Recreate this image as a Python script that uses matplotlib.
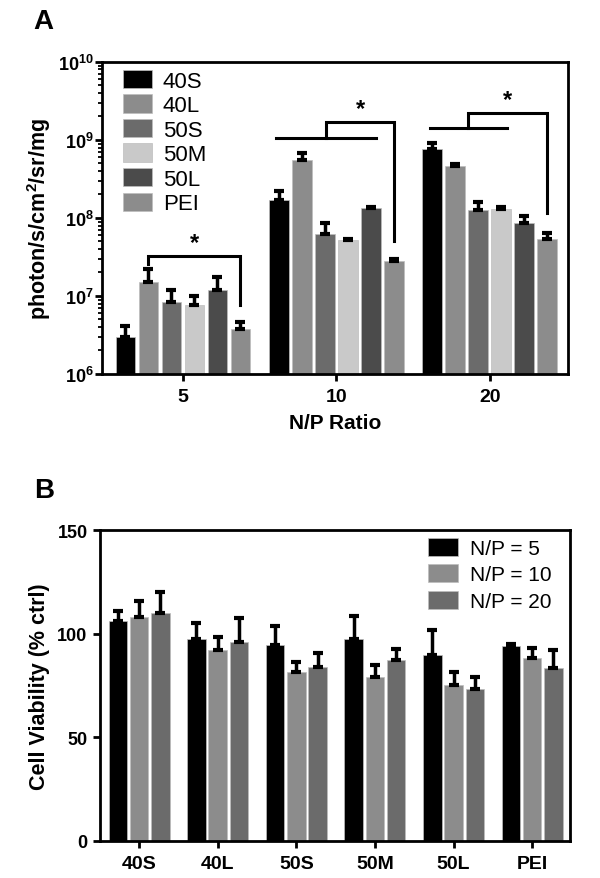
# Luciferase expression (A) and cell viability (B) for the polymer formulations

import numpy as np
import matplotlib
matplotlib.use("Agg")
import matplotlib.pyplot as plt

plt.rcParams["font.family"] = ["Liberation Sans", "DejaVu Sans"]
plt.rcParams["mathtext.fontset"] = "custom"
plt.rcParams["mathtext.rm"] = "Liberation Sans:bold"
plt.rcParams["mathtext.bf"] = "Liberation Sans:bold"

# Panel A: photon/s/cm2/sr/mg at N/P = 5, 10, 20
np_ratios = ["5", "10", "20"]
formulations = ["40S", "40L", "50S", "50M", "50L", "PEI"]
colores_a = ["#000000", "#8c8c8c", "#6b6b6b", "#c9c9c9", "#4b4b4b", "#8c8c8c"]

lum_40S = [3.0e6, 1.69e8, 7.6e8]
lum_40L = [1.5e7, 5.6e8, 4.6e8]
lum_50S = [8.4e6, 6.3e7, 1.26e8]
lum_50M = [7.6e6, 5.25e7, 1.3e8]
lum_50L = [1.2e7, 1.35e8, 8.5e7]
lum_PEI = [3.8e6, 2.8e7, 5.4e7]

err_40S = [1.1e6, 5.0e7, 1.5e8]
err_40L = [7.0e6, 1.3e8, 3.0e7]
err_50S = [3.5e6, 2.2e7, 3.4e7]
err_50M = [2.4e6, 1.5e6, 1.0e7]
err_50L = [5.7e6, 3.0e6, 2.0e7]
err_PEI = [0.8e6, 2.0e6, 1.1e7]

# significance brackets
# group 0 is a single bracket 40L -> PEI, groups 1 and 2 join a bar set to PEI
sig_grupos = [0, 1, 2]
sig_baixo_ini = [1, 0, 0]
sig_baixo_fim = [5, 4, 3]
sig_y_baixo = [3.27e7, 1.05e9, 1.44e9]
sig_y_cima = [3.27e7, 1.71e9, 2.2e9]
sig_perna_esq = [2.6e7, None, None]
sig_perna_dir = [7.6e6, 5.1e7, 1.16e8]

# Panel B: cell viability (% ctrl)
grupos_b = ["40S", "40L", "50S", "50M", "50L", "PEI"]
legenda_b = ["N/P = 5", "N/P = 10", "N/P = 20"]
colores_b = ["#000000", "#8c8c8c", "#6b6b6b"]

via_np5 = [105.9, 97.4, 94.6, 97.4, 89.8, 94.2]
via_np10 = [107.8, 92.1, 81.3, 79.3, 75.3, 88.4]
via_np20 = [109.9, 96.2, 84.0, 87.2, 73.2, 83.2]

errv_np5 = [5.2, 7.7, 9.2, 11.2, 11.9, 0.8]
errv_np10 = [7.8, 6.1, 5.1, 5.7, 6.0, 4.6]
errv_np20 = [10.0, 11.3, 6.9, 5.3, 6.1, 8.9]

fig = plt.figure(figsize=(6, 8.79), dpi=100)

lw = 2.0

# ---------------- Panel A ----------------
ax = fig.add_axes([0.17, 0.5734, 0.7767, 0.355])
medias = [lum_40S, lum_40L, lum_50S, lum_50M, lum_50L, lum_PEI]
erros = [err_40S, err_40L, err_50S, err_50M, err_50L, err_PEI]

passo = 0.15
largura = 0.128
x = np.arange(len(np_ratios))
offsets = (np.arange(len(formulations)) - 2.5) * passo

ax.set_yscale("log")
for i, nome in enumerate(formulations):
    xs = x + offsets[i]
    ax.bar(xs, medias[i], largura, color=colores_a[i], label=nome,
           edgecolor="#bdbdbd", linewidth=0.5, zorder=2)
    ax.errorbar(xs, medias[i], yerr=[np.zeros(3), erros[i]], fmt="none",
                ecolor="black", elinewidth=2.5, capsize=3.5, capthick=3, zorder=3)

ax.set_ylim(1e6, 1e10)
ax.set_xlim(-0.527, 2.51)
ax.set_yticks([1e6, 1e7, 1e8, 1e9, 1e10])
ax.set_yticklabels([r"$\mathbf{10^{%d}}$" % k for k in range(6, 11)], fontsize=13)
ax.set_xticks(x)
ax.set_xticklabels(np_ratios, fontsize=14, fontweight="bold")
ax.tick_params(axis="y", which="major", length=5, width=lw, pad=1)
ax.tick_params(axis="y", which="minor", length=3, width=1.3)
ax.tick_params(axis="x", length=5, width=lw, pad=5)
for s in ax.spines.values():
    s.set_linewidth(lw)

ax.set_xlabel("N/P Ratio", fontsize=15, fontweight="bold", labelpad=6)
ax.set_ylabel(r"photon/s/cm$^{\mathbf{2}}$/sr/mg", fontsize=15.5, fontweight="bold")
ax.yaxis.set_label_coords(-0.105, 0.5)

# brackets of significance
for k, g in enumerate(sig_grupos):
    xa = g + offsets[sig_baixo_ini[k]]
    xb = g + offsets[sig_baixo_fim[k]]
    xd = g + offsets[-1]
    if sig_perna_esq[k] is not None:
        ax.plot([xa, xa, xd, xd], [sig_perna_esq[k], sig_y_cima[k], sig_y_cima[k], sig_perna_dir[k]],
                color="black", lw=2.2, solid_joinstyle="miter", zorder=4)
        xs_star = (xa + xd) / 2
    else:
        xa -= 0.015
        xb += 0.035
        xm = (xa + xb) / 2
        ax.plot([xa, xb], [sig_y_baixo[k]] * 2, color="black", lw=2.2, zorder=4)
        ax.plot([xm, xm, xd, xd], [sig_y_baixo[k], sig_y_cima[k], sig_y_cima[k], sig_perna_dir[k]],
                color="black", lw=2.2, solid_joinstyle="miter", zorder=4)
        xs_star = (xm + xd) / 2
    ax.text(xs_star, sig_y_cima[k] * 1.06, "*", ha="center", va="bottom",
            fontsize=17, fontweight="bold")

ax.legend(loc="upper left", bbox_to_anchor=(0.045, 0.975), frameon=False,
          fontsize=16, borderpad=0, borderaxespad=0, labelspacing=0.12,
          handlelength=1.3, handleheight=0.9, handletextpad=0.5)

fig.text(0.073, 1 - 22 / 879, "A", fontsize=20, fontweight="bold", ha="center", va="center")

# ---------------- Panel B ----------------
bx = fig.add_axes([0.1667, 0.0421, 0.7833, 0.3538])
vias = [via_np5, via_np10, via_np20]
errs_v = [errv_np5, errv_np10, errv_np20]
xb_ = np.arange(len(grupos_b))
larg_b = 0.235
passo_b = 0.27

for i, nome in enumerate(legenda_b):
    xs = xb_ + (i - 1) * passo_b
    bx.bar(xs, vias[i], larg_b, color=colores_b[i], label=nome,
           edgecolor="#bdbdbd", linewidth=0.5, zorder=2)
    bx.errorbar(xs, vias[i], yerr=[np.zeros(6), errs_v[i]], fmt="none",
                ecolor="black", elinewidth=2.5, capsize=3.5, capthick=3, zorder=3)

bx.set_ylim(0, 150)
bx.set_xlim(-0.496, 5.48)
bx.set_yticks([0, 50, 100, 150])
bx.set_yticklabels(["0", "50", "100", "150"], fontsize=13, fontweight="bold")
bx.set_xticks(xb_)
bx.set_xticklabels(grupos_b, fontsize=14, fontweight="bold")
bx.tick_params(axis="y", length=5, width=lw, pad=4)
bx.tick_params(axis="x", length=5, width=lw, pad=5)
for s in bx.spines.values():
    s.set_linewidth(lw)

bx.set_ylabel("Cell Viability (% ctrl)", fontsize=15.5, fontweight="bold")
bx.yaxis.set_label_coords(-0.106, 0.5)

bx.legend(loc="upper left", bbox_to_anchor=(0.698, 0.975), frameon=False,
          fontsize=15, borderpad=0, borderaxespad=0, labelspacing=0.3,
          handlelength=1.45, handleheight=0.95, handletextpad=0.55)

fig.text(0.073, 1 - 491 / 879, "B", fontsize=20, fontweight="bold", ha="center", va="center")

plt.savefig("out.png", dpi=100)
